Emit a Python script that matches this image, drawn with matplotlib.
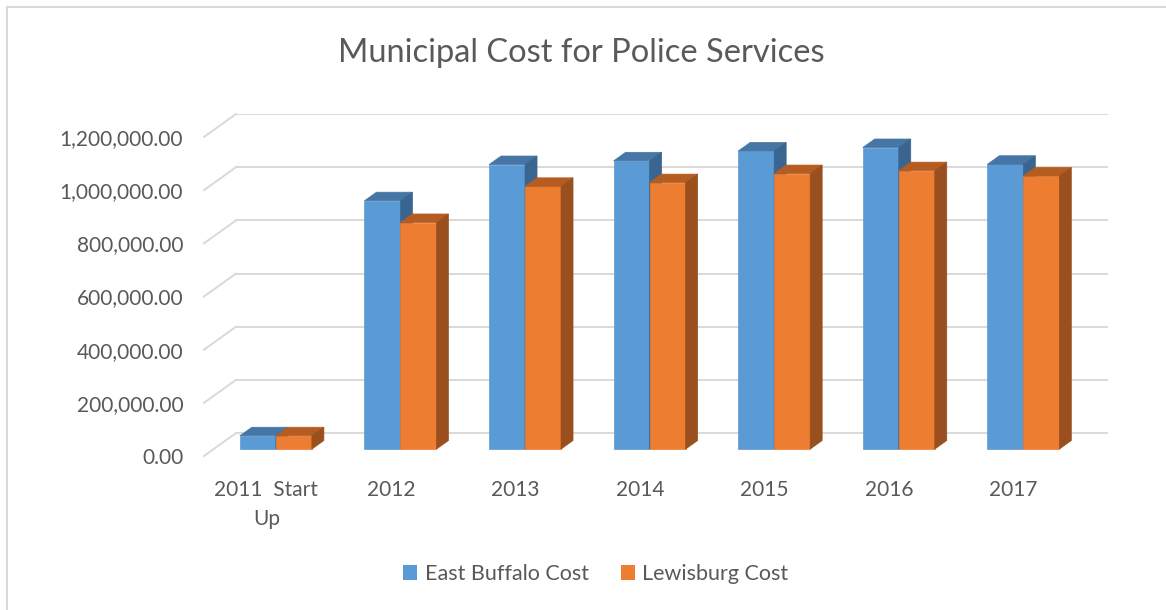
import matplotlib.pyplot as plt
from matplotlib.patches import Polygon
from matplotlib.lines import Line2D
from matplotlib.patches import Patch

plt.rcParams['font.family'] = ['Lato', 'DejaVu Sans']

categories = ['2011  Start\nUp', '2012', '2013', '2014', '2015', '2016', '2017']
east_buffalo = [50000, 934000, 1070000, 1084000, 1121000, 1134000, 1071000]
lewisburg = [50000, 852000, 988000, 1002000, 1036000, 1047000, 1027000]
series_names = ['East Buffalo Cost', 'Lewisburg Cost']
y_ticks = [0, 200000, 400000, 600000, 800000, 1000000, 1200000]

# colours: front, top, side
blue = ('#5B9BD5', '#4676A5', '#3A6590')
orange = ('#ED7D31', '#B55D21', '#9A501E')
grid_col = '#D9D9D9'
text_col = '#595959'

# 3d look: full depth offset in data units
DXD = 0.2569
DYD = 86250
bar_front = 0.3     # depth of bar front face
bar_depth = 0.375   # depth of the bar
w = 0.289

fig = plt.figure(figsize=(11.66, 6.10), dpi=100)
ax = fig.add_axes([204 / 1166, 1 - 456 / 610, 904 / 1166, 342 / 610])
n = len(categories)
ax.set_xlim(-0.5, n - 0.5 + DXD)
ax.set_ylim(0, y_ticks[-1] + DYD)

# back wall grid + left diagonal lines
for t in y_ticks:
    ax.plot([-0.5 + DXD, n - 0.5 + DXD], [t + DYD, t + DYD], color=grid_col, lw=1.4, zorder=1)
    ax.plot([-0.5, -0.5 + DXD], [t, t + DYD], color=grid_col, lw=1.4, zorder=1, clip_on=False)

ox = bar_front * DXD
oy = bar_front * DYD
bx = bar_depth * DXD
by = bar_depth * DYD


def draw_bar(x0, v, cols, z):
    x1 = x0 + w
    ax.bar(x0 + ox, v, width=w, bottom=oy, align='edge', color=cols[0],
           edgecolor=cols[0], linewidth=0.5, zorder=z)
    top = [(x0 + ox, v + oy), (x1 + ox, v + oy), (x1 + ox + bx, v + oy + by), (x0 + ox + bx, v + oy + by)]
    side = [(x1 + ox, oy), (x1 + ox, v + oy), (x1 + ox + bx, v + oy + by), (x1 + ox + bx, oy + by)]
    ax.add_patch(Polygon(top, closed=True, facecolor=cols[1], edgecolor=cols[1], lw=0.5, zorder=z))
    ax.add_patch(Polygon(side, closed=True, facecolor=cols[2], edgecolor=cols[2], lw=0.5, zorder=z))


for i in range(n):
    draw_bar(i - w, east_buffalo[i], blue, 2 + i * 2)
    draw_bar(i, lewisburg[i], orange, 3 + i * 2)

ax.set_yticks(y_ticks)
ax.set_yticklabels(['{:,.2f}'.format(t) for t in y_ticks])
ax.set_xticks(range(n))
ax.set_xticklabels(categories, linespacing=1.6)
ax.tick_params(axis='y', length=0, pad=15, labelsize=15, labelcolor=text_col)
ax.tick_params(axis='x', length=0, pad=17, labelsize=15, labelcolor=text_col)
for s in ax.spines.values():
    s.set_visible(False)
ax.set_facecolor('none')

fig.text(0.4985, 1 - 53 / 610, 'Municipal Cost for Police Services', ha='center', va='center',
         fontsize=23.5, color=text_col)

handles = [Patch(facecolor=blue[0]), Patch(facecolor=orange[0])]
fig.legend(handles, series_names, loc='center', bbox_to_anchor=(0.511, 1 - 574 / 610), ncol=2,
           frameon=False, fontsize=15.5, labelcolor=text_col, handlelength=0.65, handleheight=0.65,
           handletextpad=0.35, columnspacing=1.5)

# chart border
fig.add_artist(Line2D([7 / 1166, 7 / 1166], [0, 1 - 7 / 610], color=grid_col, lw=1.5))
fig.add_artist(Line2D([7 / 1166, 1], [1 - 7 / 610, 1 - 7 / 610], color=grid_col, lw=1.5))

fig.savefig('out.png', dpi=100)
